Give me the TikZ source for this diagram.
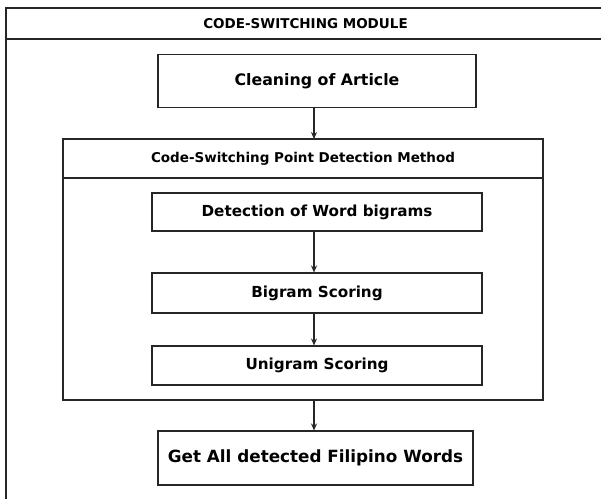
\documentclass[tikz,border=0pt]{standalone}
\usepackage{fontspec}
\setmainfont{DejaVu Sans}
\usetikzlibrary{arrows.meta}
\tikzset{
	stepbox/.style={draw=black!85,line width=1.1pt,fill=white,inner sep=0pt,font=\bfseries},
	arr/.style={draw=black!85,line width=1.1pt,-{Stealth[length=7pt,width=6pt]}}
}
\begin{document}
\begin{tikzpicture}[x=1pt,y=-1pt,every node/.style={black}]
	\useasboundingbox (0,0) rectangle (601,498);
	\clip (0,0) rectangle (601,498);
%	\coordinate (    ) at (x, y) in pixels of the page, y going down
	\coordinate (m0) at (6,8);
	\coordinate (m1) at (605,520);
	\coordinate (d0) at (63,139);
	\coordinate (d1) at (543,400);

	% module frame
	\draw[black!85,line width=1.1pt,fill=white] (m0) rectangle (m1);
	\draw[black!85,line width=1.1pt] (6,39) -- (605,39);
	\node[font=\bfseries\fontsize{13.5}{15}\selectfont] (mtitle) at (305.5,24) {CODE-SWITCHING MODULE};

	% detection method frame
	\draw[black!85,line width=1.1pt,fill=white] (d0) rectangle (d1);
	\draw[black!85,line width=1.1pt] (63,178) -- (543,178);
	\node[font=\bfseries\fontsize{13.5}{15}\selectfont] (dtitle) at (303,158.5) {Code-Switching Point Detection Method};
	\coordinate (dtop) at (314,139);
	\coordinate (dbot) at (314,400);

	\node[stepbox,minimum width=318pt,minimum height=53pt,font=\bfseries\fontsize{15.8}{18}\selectfont] (clean) at (317,81) {Cleaning of Article};
	\node[stepbox,minimum width=330pt,minimum height=38pt,font=\bfseries\fontsize{15.2}{17}\selectfont] (detect) at (317,212) {Detection of Word bigrams};
	\node[stepbox,minimum width=330pt,minimum height=40pt,font=\bfseries\fontsize{15.2}{17}\selectfont] (bigram) at (317,293) {Bigram Scoring};
	\node[stepbox,minimum width=330pt,minimum height=39pt,font=\bfseries\fontsize{15.2}{17}\selectfont] (unigram) at (317,365.5) {Unigram Scoring};
	\node[stepbox,minimum width=315pt,minimum height=54pt,font=\bfseries\fontsize{16.8}{19}\selectfont] (getall) at (315.5,458) {Get All detected Filipino Words};

	\draw[arr] ([xshift=-3pt]clean.south) -- (dtop);
	\draw[arr] ([xshift=-3pt]detect.south) -- ([xshift=-3pt]bigram.north);
	\draw[arr] ([xshift=-3pt]bigram.south) -- ([xshift=-3pt]unigram.north);
	\draw[arr] (dbot) -- ([xshift=-1.5pt]getall.north);
\end{tikzpicture}
\end{document}
